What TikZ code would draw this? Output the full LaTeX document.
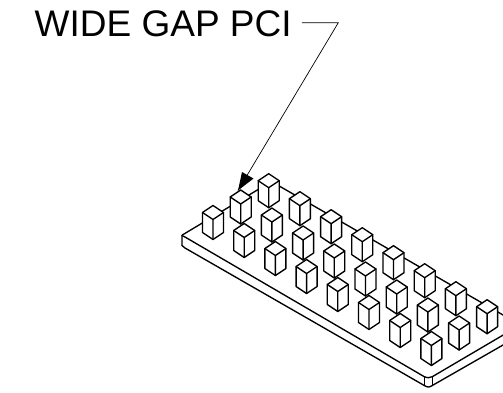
\documentclass[tikz,border=0pt]{standalone}
\usepackage{fontspec}
\setmainfont{Liberation Sans}
\tikzset{
  edgeline/.style={draw=black,line width=1.35pt,line join=round,line cap=round},
  leaderline/.style={draw=black,line width=0.7pt,line join=miter},
  labeltext/.style={inner sep=0pt,anchor=base west,font=\fontsize{37}{37}\selectfont},
  pinface/.style={edgeline,fill=white}
}
\newcommand{\pinat}[2]{%
  \draw[pinface] (#1,#2) -- (#1+10.5,#2+7) -- (#1+10.5,#2+27) -- (#1,#2+34)
     -- (#1-10.5,#2+27) -- (#1-10.5,#2+7) -- cycle;
  \draw[edgeline] (#1-10.5,#2+7) -- (#1,#2+14) -- (#1+10.5,#2+7) (#1,#2+14) -- (#1,#2+34);
}
\begin{document}
\begin{tikzpicture}[x=1pt,y=-1pt]
\useasboundingbox (0,0) rectangle (503,392);
% plate
\begin{scope}
\clip (0,0) rectangle (503,392);
\draw[edgeline] (182,245.5) -- (182,235.5) .. controls (182,235) and (183,234.5) .. (184,234)
  -- (268,183.6) .. controls (270,182.5) and (272,182) .. (274,183) -- (510,319);
\draw[edgeline] (182,235.5) .. controls (183,236) and (183,236) .. (185,237) -- (424.3,376.7)
  .. controls (428,378) and (429,378) .. (432.3,376.7) -- (510,331);
\draw[edgeline] (182,245.5) .. controls (183,247) and (184,247) .. (185,248) -- (424.3,385.5)
  .. controls (428,387.5) and (429,387.5) .. (432.3,385.5) -- (510,341);
\draw[edgeline] (424.3,376.7) -- (424.3,385.5) (432.3,376.7) -- (432.3,385.5);
\foreach \k in {0,...,7} {\pinat{268.7+31.2*\k}{173.7+18*\k}}
\foreach \k in {0,...,7} {\pinat{240.7+31.2*\k}{190+18*\k}}
\foreach \k in {0,...,7} {\pinat{213+31.2*\k}{205.5+18*\k}}
\end{scope}
% label and leader
\node[labeltext] (lbl) at (34.5,36) {WIDE GAP PCI};
\coordinate (bend) at (338.3,22.7);
\coordinate (tip) at (238,190.5);
\draw[leaderline] (lbl.east |- bend) ++(10,0) coordinate (start) -- (bend) -- (tip);
\fill[black] (tip) -- (242,172) -- (253.5,178.5) -- cycle;
\end{tikzpicture}
\end{document}
